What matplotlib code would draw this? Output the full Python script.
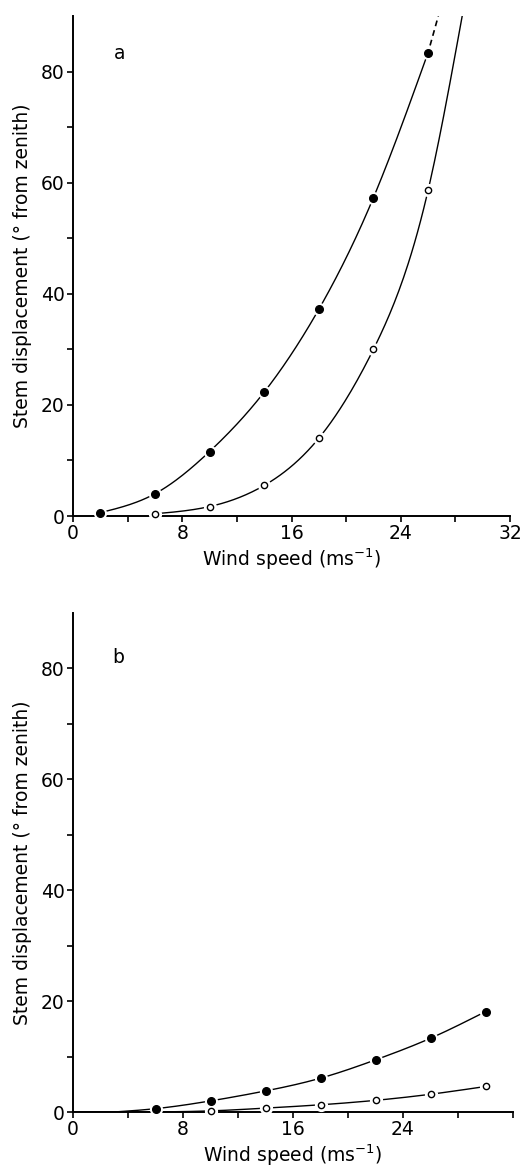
import numpy as np
import matplotlib
matplotlib.use("Agg")
import matplotlib.pyplot as plt

# panel a : values
wind_a = [2, 6, 10, 14, 18, 22, 26]
filled_a = [0.6, 4.0, 11.6, 22.3, 37.2, 57.3, 83.4]
wind_a_open = [6, 10, 14, 18, 22, 26]
open_a = [0.4, 1.7, 5.5, 14.0, 30.0, 58.6]
# where the fitted curves leave the top of the frame
end_a_filled = (26.75, 90)
end_a_open = (28.5, 90)

# panel b
wind_b = [6, 10, 14, 18, 22, 26, 30]
filled_b = [0.6, 2.0, 3.8, 6.1, 9.4, 13.3, 18.1]
wind_b_open = [10, 14, 18, 22, 26, 30]
open_b = [0.2, 0.7, 1.3, 2.1, 3.2, 4.6]
start_b_filled = (3, 0)
start_b_open = (6, 0)

ylabel = "Stem displacement (° from zenith)"
xlabel = "Wind speed (ms$^{-1}$)"


def smooth(xs, ys, n=200):
    """natural cubic spline through the points (only for drawing the curve)"""
    x = np.asarray(xs, float)
    y = np.asarray(ys, float)
    k = len(x)
    h = np.diff(x)
    A = np.zeros((k, k))
    r = np.zeros(k)
    A[0, 0] = A[-1, -1] = 1
    for i in range(1, k - 1):
        A[i, i - 1] = h[i - 1]
        A[i, i] = 2 * (h[i - 1] + h[i])
        A[i, i + 1] = h[i]
        r[i] = 6 * ((y[i + 1] - y[i]) / h[i] - (y[i] - y[i - 1]) / h[i - 1])
    M = np.linalg.solve(A, r)
    xx = np.linspace(x[0], x[-1], n)
    j = np.clip(np.searchsorted(x, xx) - 1, 0, k - 2)
    a = x[j + 1] - xx
    b = xx - x[j]
    hj = h[j]
    yy = (M[j] * a ** 3 / (6 * hj) + M[j + 1] * b ** 3 / (6 * hj)
          + (y[j] / hj - M[j] * hj / 6) * a + (y[j + 1] / hj - M[j + 1] * hj / 6) * b)
    return xx, yy


def markers(ax, x, y, filled):
    ax.plot(x, y, 'o', ms=8.5, color='white', zorder=3, clip_on=False)
    if filled:
        ax.plot(x, y, 'o', ms=5.5, color='black', zorder=4, clip_on=False)
    else:
        ax.plot(x, y, 'o', ms=4.5, mfc='white', mec='black', mew=1.0,
                zorder=4, clip_on=False)


def style(ax, xticks):
    ax.spines['top'].set_visible(False)
    ax.spines['right'].set_visible(False)
    ax.spines['left'].set_linewidth(1.4)
    ax.spines['bottom'].set_linewidth(1.4)
    ax.set_xlim(0, 32)
    ax.set_ylim(0, 90)
    ax.set_xticks(xticks)
    ax.set_xticks([4, 12, 20, 28, 32] if 32 not in xticks else [4, 12, 20, 28], minor=True)
    ax.set_yticks([0, 20, 40, 60, 80])
    ax.set_yticks([10, 30, 50, 70], minor=True)
    ax.tick_params(direction='out', length=4, width=1.2, labelsize=13.5, pad=2)
    ax.tick_params(which='minor', direction='out', length=4, width=1.2)
    ax.set_xlabel(xlabel, fontsize=13.5, labelpad=2)
    ax.set_ylabel(ylabel, fontsize=13.5, labelpad=6)


fig = plt.figure(figsize=(5.28, 11.72), dpi=100)
ax1 = fig.add_axes([73 / 528, 1 - 516 / 1172, (510 - 73) / 528, 500 / 1172])
ax2 = fig.add_axes([73 / 528, 1 - 1112 / 1172, (513 - 73) / 528, 499 / 1172])

# panel a
cx, cy = smooth(wind_a, filled_a)
ax1.plot(cx, cy, color='black', lw=1.0, zorder=2)
ax1.plot([wind_a[-1], end_a_filled[0]], [filled_a[-1], end_a_filled[1]],
         color='black', lw=1.2, ls=(1.5, (3.5, 2.5)), zorder=2)
cx, cy = smooth(wind_a_open + [end_a_open[0]], open_a + [end_a_open[1]])
ax1.plot(cx, cy, color='black', lw=1.0, zorder=2)
markers(ax1, wind_a, filled_a, True)
markers(ax1, wind_a_open, open_a, False)
ax1.text(3.4, 83.2, "a", fontsize=13.5, ha='center', va='center')
style(ax1, [0, 8, 16, 24, 32])

# panel b
cx, cy = smooth([start_b_filled[0]] + wind_b, [start_b_filled[1]] + filled_b)
ax2.plot(cx, cy, color='black', lw=1.0, zorder=2)
cx, cy = smooth([start_b_open[0]] + wind_b_open, [start_b_open[1]] + open_b)
ax2.plot(cx, cy, color='black', lw=1.0, zorder=2)
ax2.plot([0, start_b_open[0]], [0, 0], color='black', lw=2.0, zorder=2)
markers(ax2, wind_b, filled_b, True)
markers(ax2, wind_b_open, open_b, False)
ax2.text(3.3, 82, "b", fontsize=13.5, ha='center', va='center')
style(ax2, [0, 8, 16, 24])

fig.savefig("out.png", dpi=100)
